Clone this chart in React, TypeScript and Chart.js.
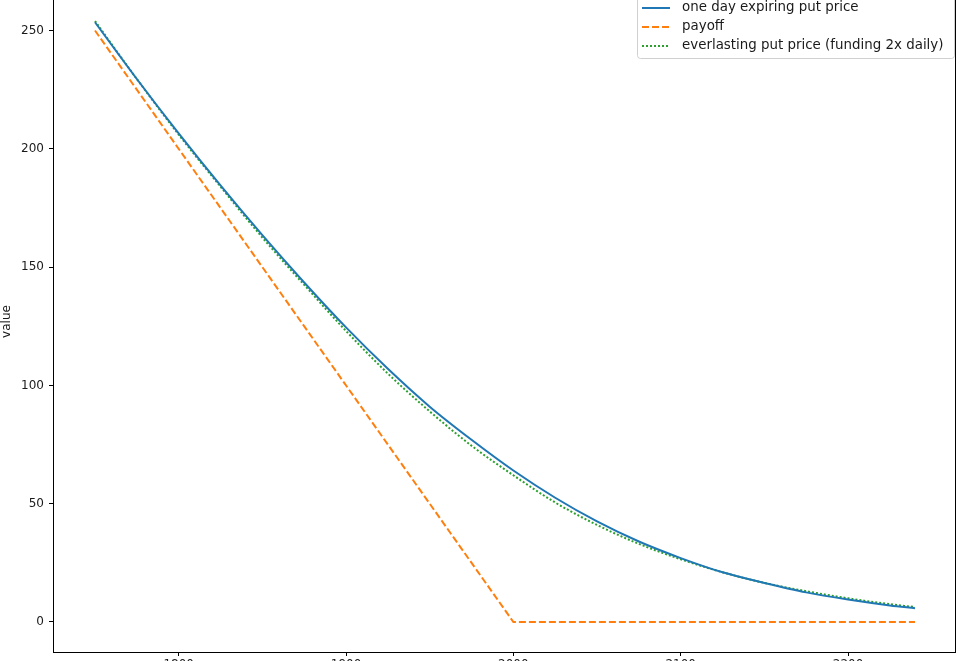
import React, { useEffect, useRef } from "react";
import { Chart, registerables } from "chart.js";

Chart.register(...registerables);

// ---- data ----
const spotPrices = [1750, 1775, 1800, 1825, 1850, 1875, 1900, 1925, 1950, 1975, 2000, 2025, 2050, 2075, 2100, 2125, 2150, 2175, 2200, 2225, 2240];
const expiringPutPrice = [253.5, 229.5, 206.5, 184.5, 163.5, 143.5, 124.5, 107, 91, 77, 64, 52.5, 42.5, 34, 27, 21, 16.5, 12.5, 9.5, 7, 5.8];
const everlastingPutPrice = [254, 229.5, 206, 184, 162.5, 142.5, 123, 105, 89, 74.5, 62, 50.5, 41, 33, 26.5, 21, 16.5, 13, 10, 7.5, 6.3];
const payoffSpot = [1750, 2000, 2240];
const payoffValue = [250, 0, 0];
const xTicks = [1800, 1900, 2000, 2100, 2200];
const yTicks = [0, 50, 100, 150, 200, 250];
const seriesLabels = [
  "one day expiring put price",
  "payoff",
  "everlasting put price (funding 2x daily)",
];
const yAxisTitle = "value";

const BLUE = "#1f77b4";
const ORANGE = "#ff7f0e";
const GREEN = "#2ca02c";
const FONT = "'DejaVu Sans', sans-serif";

const framePlugin = {
  id: "mplFrame",
  afterDraw(chart: any) {
    const { ctx, chartArea } = chart;
    ctx.save();
    ctx.strokeStyle = "#000";
    ctx.lineWidth = 1;
    ctx.strokeRect(
      Math.round(chartArea.left) - 0.5,
      Math.round(chartArea.top) + 0.5,
      Math.round(chartArea.right - chartArea.left),
      Math.round(chartArea.bottom - chartArea.top)
    );
    ctx.restore();
  },
};

const legendPlugin = {
  id: "mplLegend",
  afterDraw(chart: any) {
    const ctx = chart.ctx;
    const x0 = 637.5;
    const y0 = 24.5;
    const w = 317;
    const h = 63;
    ctx.save();
    ctx.beginPath();
    const r = 3;
    ctx.moveTo(x0 + r, y0);
    ctx.lineTo(x0 + w - r, y0);
    ctx.arcTo(x0 + w, y0, x0 + w, y0 + r, r);
    ctx.lineTo(x0 + w, y0 + h - r);
    ctx.arcTo(x0 + w, y0 + h, x0 + w - r, y0 + h, r);
    ctx.lineTo(x0 + r, y0 + h);
    ctx.arcTo(x0, y0 + h, x0, y0 + h - r, r);
    ctx.lineTo(x0, y0 + r);
    ctx.arcTo(x0, y0, x0 + r, y0, r);
    ctx.closePath();
    ctx.fillStyle = "rgba(255,255,255,0.8)";
    ctx.fill();
    ctx.strokeStyle = "#d0d0d0";
    ctx.lineWidth = 1;
    ctx.stroke();

    const colors = [BLUE, ORANGE, GREEN];
    const dashes = [[], [7, 3], [2, 2]];
    const rows = [37, 56, 75];
    ctx.font = `13.4px ${FONT}`;
    ctx.textBaseline = "middle";
    ctx.textAlign = "left";
    for (let i = 0; i < seriesLabels.length; i++) {
      const y = rows[i];
      ctx.beginPath();
      ctx.setLineDash(dashes[i]);
      ctx.strokeStyle = colors[i];
      ctx.lineWidth = 2;
      ctx.moveTo(642, y);
      ctx.lineTo(670, y);
      ctx.stroke();
      ctx.setLineDash([]);
      ctx.fillStyle = "#1a1a1a";
      ctx.fillText(seriesLabels[i], 682, y);
    }
    ctx.restore();
  },
};

export default function App() {
  const canvasRef = useRef<HTMLCanvasElement | null>(null);

  useEffect(() => {
    if (!canvasRef.current) return;
    const toPoints = (xs: number[], ys: number[]) => xs.map((x, i) => ({ x, y: ys[i] }));
    const chart = new Chart(canvasRef.current, {
      type: "line",
      data: {
        datasets: [
          {
            label: seriesLabels[0],
            data: toPoints(spotPrices, expiringPutPrice),
            borderColor: BLUE,
            borderWidth: 2,
            pointRadius: 0,
            cubicInterpolationMode: "monotone",
            fill: false,
          },
          {
            label: seriesLabels[1],
            data: toPoints(payoffSpot, payoffValue),
            borderColor: ORANGE,
            borderWidth: 2,
            borderDash: [7, 3],
            pointRadius: 0,
            fill: false,
          },
          {
            label: seriesLabels[2],
            data: toPoints(spotPrices, everlastingPutPrice),
            borderColor: GREEN,
            borderWidth: 2,
            borderDash: [2, 2],
            pointRadius: 0,
            cubicInterpolationMode: "monotone",
            fill: false,
          },
        ],
      },
      options: {
        animation: false,
        responsive: false,
        maintainAspectRatio: false,
        devicePixelRatio: 1,
        layout: { padding: { left: 0, right: 4, top: 20, bottom: 0 } },
        plugins: {
          legend: { display: false },
          tooltip: { enabled: false },
          title: { display: false },
        },
        scales: {
          x: {
            type: "linear",
            min: 1725.5,
            max: 2264.5,
            afterBuildTicks: (scale: any) => {
              scale.ticks = xTicks.map((v) => ({ value: v }));
            },
            afterFit: (scale: any) => {
              scale.height = 49;
            },
            grid: {
              display: true,
              drawOnChartArea: false,
              drawTicks: true,
              tickLength: 4,
              color: "#000",
            },
            border: { display: false },
            ticks: {
              padding: 2,
              color: "#1a1a1a",
              font: { family: FONT, size: 12 },
              maxRotation: 0,
              callback: (v: any) => String(v),
            },
          },
          y: {
            type: "linear",
            min: -12.7,
            max: 266.7,
            afterBuildTicks: (scale: any) => {
              scale.ticks = yTicks.map((v) => ({ value: v }));
            },
            afterFit: (scale: any) => {
              scale.width = 54;
            },
            grid: {
              display: true,
              drawOnChartArea: false,
              drawTicks: true,
              tickLength: 5,
              color: "#000",
            },
            border: { display: false },
            ticks: {
              padding: 5,
              color: "#1a1a1a",
              font: { family: FONT, size: 12 },
              callback: (v: any) => String(v),
            },
            title: {
              display: true,
              text: yAxisTitle,
              color: "#1a1a1a",
              font: { family: FONT, size: 12 },
              padding: { top: 0, bottom: 0 },
            },
          },
        },
      },
      plugins: [framePlugin, legendPlugin],
    });
    return () => chart.destroy();
  }, []);

  return (
    <div
      style={{
        position: "absolute",
        left: 0,
        top: -29,
        width: 960,
        height: 730,
        background: "#fff",
      }}
    >
      <canvas ref={canvasRef} width={960} height={730} style={{ width: 960, height: 730 }} />
    </div>
  );
}
